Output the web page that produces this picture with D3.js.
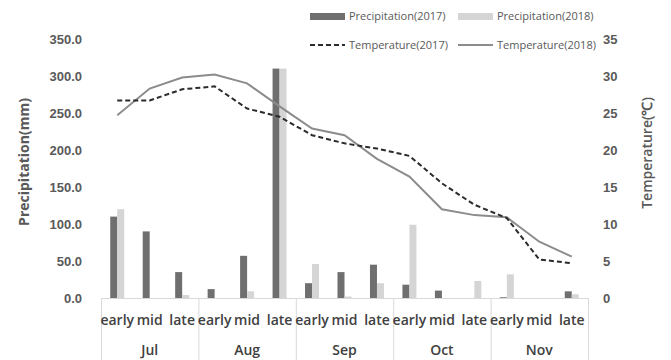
<!DOCTYPE html>
<html>
<head>
    <script src="https://d3js.org/d3.v7.min.js"></script>
    <style>
        body { margin: 0; background: #fff; }
        svg { font-family: 'Open Sans', sans-serif; }
        .tick-l text, .tick-r text { font-size: 13px; font-weight: bold; fill: #595959; }
    </style>
</head>
<body>
<script>
    var months = ["Jul", "Aug", "Sep", "Oct", "Nov"];
    var dekads = ["early", "mid", "late"];
    var precip2017 = [110, 90, 35, 12, 57, 310, 20, 35, 45, 18, 10, 0, 1, 0, 9];
    var precip2018 = [120, 0, 4, 0, 9, 310, 46, 2, 20, 99, 0, 23, 32, 0, 5];
    var temp2017 = [26.7, 26.7, 28.2, 28.6, 25.6, 24.5, 22.0, 20.9, 20.2, 19.2, 15.5, 12.6, 10.8, 5.2, 4.7];
    var temp2018 = [24.7, 28.3, 29.8, 30.2, 29.0, 25.9, 22.9, 22.0, 18.8, 16.4, 12.0, 11.2, 10.9, 7.6, 5.6];
    var precipTicks = [0, 50, 100, 150, 200, 250, 300, 350];
    var tempTicks = [0, 5, 10, 15, 20, 25, 30, 35];

    var W = 671, H = 360;
    var plotLeft = 101, plotRight = 588, plotTop = 39, plotBottom = 298;

    var svg = d3.select("body").append("svg").attr("width", W).attr("height", H);

    var cats = d3.range(months.length * dekads.length);
    var x = d3.scaleBand().domain(cats).range([plotLeft, plotRight]).padding(0);
    var bw = x.bandwidth();
    var x1 = d3.scaleBand().domain(["2017", "2018"]).range([bw / 2 - 7, bw / 2 + 7]).padding(0);
    var yP = d3.scaleLinear().domain([0, 350]).range([plotBottom, plotTop]);
    var yT = d3.scaleLinear().domain([0, 35]).range([plotBottom, plotTop]);

    // axes
    var gl = svg.append("g").attr("class", "tick-l")
        .attr("transform", "translate(86,0)")
        .call(d3.axisLeft(yP).tickValues(precipTicks).tickSize(0).tickPadding(4).tickFormat(d3.format(".1f")));
    gl.select(".domain").remove();

    var gr = svg.append("g").attr("class", "tick-r")
        .attr("transform", "translate(599,0)")
        .call(d3.axisRight(yT).tickValues(tempTicks).tickSize(0).tickPadding(4));
    gr.select(".domain").remove();

    svg.append("text").attr("transform", "translate(29,162) rotate(-90)")
        .attr("text-anchor", "middle").attr("font-size", 14).attr("font-weight", "bold").attr("fill", "#595959")
        .text("Precipitation(mm)");
    svg.append("text").attr("transform", "translate(652,153) rotate(-90)")
        .attr("text-anchor", "middle").attr("font-size", 14).attr("font-weight", "600").attr("fill", "#595959")
        .text("Temperature(℃)");

    // bars
    var series = [
        { key: "2017", vals: precip2017, color: "#6f6f6f" },
        { key: "2018", vals: precip2018, color: "#d5d5d5" }
    ];
    series.forEach(function (s) {
        svg.append("g").selectAll("rect")
            .data(s.vals)
            .enter().append("rect")
            .attr("x", function (d, i) { return x(i) + x1(s.key); })
            .attr("y", function (d) { return yP(d); })
            .attr("width", x1.bandwidth())
            .attr("height", function (d) { return plotBottom - yP(d); })
            .attr("fill", s.color);
    });

    // category axis
    var axisColor = "#d9d9d9";
    svg.append("line").attr("x1", plotLeft).attr("x2", plotRight).attr("y1", plotBottom + 0.5).attr("y2", plotBottom + 0.5)
        .attr("stroke", axisColor);
    d3.range(months.length + 1).forEach(function (m) {
        var xx = m < months.length ? x(m * 3) : plotRight;
        svg.append("line").attr("x1", xx + 0.5).attr("x2", xx + 0.5).attr("y1", plotBottom).attr("y2", H)
            .attr("stroke", axisColor);
    });
    svg.append("g").selectAll("text").data(cats).enter().append("text")
        .attr("x", function (d) { return x(d) + bw / 2; })
        .attr("y", 325)
        .attr("text-anchor", "middle").attr("font-size", 14).attr("font-weight", "600").attr("fill", "#404040")
        .text(function (d) { return dekads[d % 3]; });
    svg.append("g").selectAll("text").data(months).enter().append("text")
        .attr("x", function (d, i) { return x(i * 3) + bw * 1.5; })
        .attr("y", 355)
        .attr("text-anchor", "middle").attr("font-size", 14).attr("font-weight", "600").attr("fill", "#404040")
        .text(function (d) { return d; });

    // lines
    var line = d3.line().x(function (d, i) { return x(i) + bw / 2; }).y(function (d) { return yT(d); });
    svg.append("path").datum(temp2018).attr("d", line).attr("fill", "none")
        .attr("stroke", "#8c8c8c").attr("stroke-width", 2);
    svg.append("path").datum(temp2017).attr("d", line).attr("fill", "none")
        .attr("stroke", "#2b2b2b").attr("stroke-width", 2).attr("stroke-dasharray", "5,3");

    // legend
    var lg = svg.append("g").attr("font-size", 11).attr("fill", "#595959");
    lg.append("rect").attr("x", 310).attr("y", 13).attr("width", 35).attr("height", 7).attr("fill", "#6f6f6f");
    lg.append("text").attr("x", 349).attr("y", 20).text("Precipitation(2017)");
    lg.append("rect").attr("x", 458).attr("y", 13).attr("width", 35).attr("height", 7).attr("fill", "#d5d5d5");
    lg.append("text").attr("x", 497).attr("y", 20).text("Precipitation(2018)");
    lg.append("line").attr("x1", 310).attr("x2", 345).attr("y1", 45).attr("y2", 45)
        .attr("stroke", "#2b2b2b").attr("stroke-width", 2).attr("stroke-dasharray", "5,3");
    lg.append("text").attr("x", 349).attr("y", 49).text("Temperature(2017)");
    lg.append("line").attr("x1", 458).attr("x2", 493).attr("y1", 45).attr("y2", 45)
        .attr("stroke", "#8c8c8c").attr("stroke-width", 2);
    lg.append("text").attr("x", 497).attr("y", 49).text("Temperature(2018)");
</script>
</body>
</html>
